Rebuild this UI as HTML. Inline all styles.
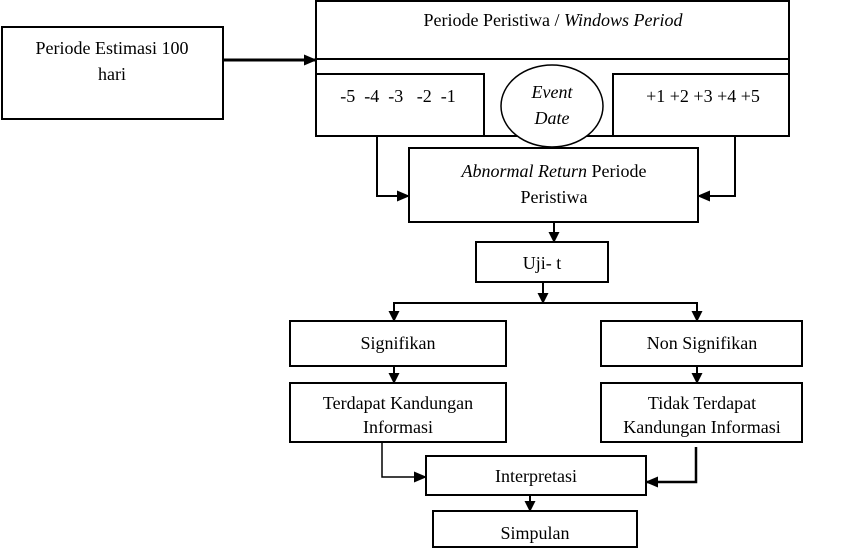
<!DOCTYPE html>
<html><head><style>
html,body{margin:0;padding:0;background:#fff;}
svg{display:block;}
text{font-family:"Liberation Serif",serif;font-size:18px;fill:#000;white-space:pre;}
</style></head><body>
<svg width="844" height="549" viewBox="0 0 844 549" xmlns="http://www.w3.org/2000/svg">
<defs><marker id="a" markerWidth="11" markerHeight="11" refX="10" refY="5.5" orient="auto" markerUnits="userSpaceOnUse"><path d="M0,0 L11,5.5 L0,11z" fill="#000"/></marker>
<marker id="b" markerWidth="13" markerHeight="11" refX="12" refY="5.5" orient="auto" markerUnits="userSpaceOnUse"><path d="M0,0 L13,5.5 L0,11z" fill="#000"/></marker></defs>
<g fill="none" stroke="#000" stroke-width="2">
<rect x="2" y="27" width="221" height="92"/>
<rect x="316" y="1" width="473" height="135"/>
<line x1="316" y1="59" x2="789" y2="59"/>
<rect x="316" y="74" width="168" height="62"/>
<rect x="613" y="74" width="176" height="62"/>
<rect x="409" y="148" width="289" height="74"/>
<rect x="476" y="242" width="132" height="40"/>
<rect x="290" y="321" width="216" height="45"/>
<rect x="601" y="321" width="201" height="45"/>
<rect x="290" y="383" width="216" height="59"/>
<rect x="601" y="383" width="201" height="59"/>
<rect x="426" y="456" width="220" height="39"/>
<rect x="433" y="511" width="204" height="36"/>
</g>
<ellipse cx="552" cy="106" rx="51" ry="41" fill="#fff" stroke="#000" stroke-width="1.5"/>
<g fill="none" stroke="#000" stroke-width="2">
<line x1="223" y1="60" x2="316" y2="60" stroke-width="3" marker-end="url(#b)"/>
<polyline points="377,136 377,196 409,196" marker-end="url(#b)"/>
<polyline points="735,136 735,196 698,196" marker-end="url(#b)"/>
<line x1="554" y1="222" x2="554" y2="242" marker-end="url(#a)"/>
<line x1="543" y1="282" x2="543" y2="303" marker-end="url(#a)"/>
<polyline points="394,321 394,303 697,303 697,321" marker-end="url(#a)"/>
<line x1="394" y1="310" x2="394" y2="321" marker-end="url(#a)"/>
<line x1="394" y1="366" x2="394" y2="383" marker-end="url(#a)"/>
<line x1="697" y1="366" x2="697" y2="383" marker-end="url(#a)"/>
<polyline points="382,442 382,477 426,477" stroke-width="1.5" marker-end="url(#b)"/>
<polyline points="696,447 696,482 646,482" stroke-width="2.5" marker-end="url(#b)"/>
<line x1="530" y1="495" x2="530" y2="511" marker-end="url(#a)"/>
</g>
<text x="112" y="54" text-anchor="middle">Periode Estimasi 100</text>
<text x="112" y="80" text-anchor="middle">hari</text>
<text x="553" y="26" text-anchor="middle">Periode Peristiwa / <tspan font-style="italic">Windows Period</tspan></text>
<text x="398" y="102" text-anchor="middle">-5  -4  -3   -2  -1</text>
<text x="703" y="102" text-anchor="middle">+1 +2 +3 +4 +5</text>
<text x="552" y="98" text-anchor="middle" font-style="italic">Event</text>
<text x="552" y="124" text-anchor="middle" font-style="italic">Date</text>
<text x="554" y="177" text-anchor="middle"><tspan font-style="italic">Abnormal Return</tspan> Periode</text>
<text x="554" y="203" text-anchor="middle">Peristiwa</text>
<text x="542" y="269" text-anchor="middle">Uji- t</text>
<text x="398" y="349" text-anchor="middle">Signifikan</text>
<text x="702" y="349" text-anchor="middle">Non Signifikan</text>
<text x="398" y="409" text-anchor="middle" font-size="16">Terdapat Kandungan</text>
<text x="398" y="433" text-anchor="middle" font-size="16">Informasi</text>
<text x="702" y="409" text-anchor="middle" font-size="16">Tidak Terdapat</text>
<text x="702" y="433" text-anchor="middle" font-size="16">Kandungan Informasi</text>
<text x="536" y="482" text-anchor="middle">Interpretasi</text>
<text x="535" y="539" text-anchor="middle">Simpulan</text>
</svg>
</body></html>
